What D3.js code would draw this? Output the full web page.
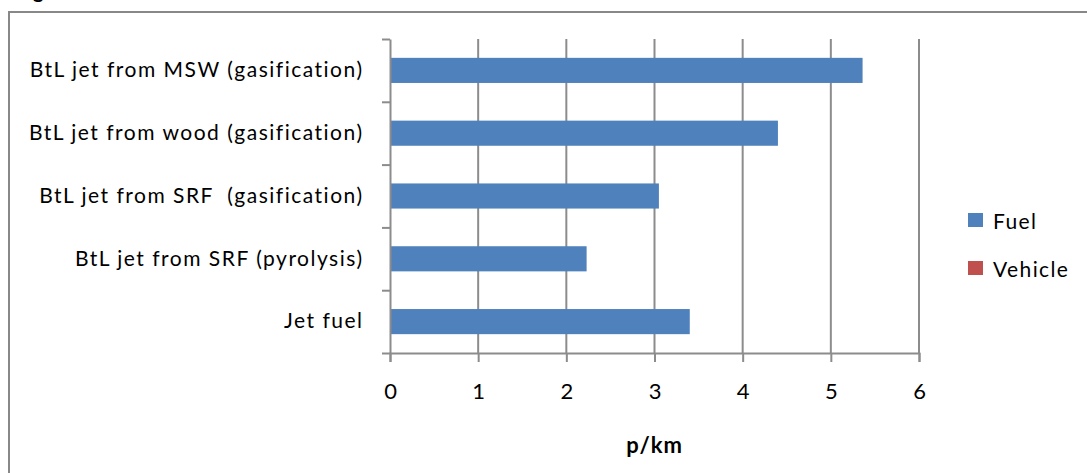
<!DOCTYPE html>
<html>
<head>
<meta charset="utf-8">
<script src="https://cdn.jsdelivr.net/npm/d3@7"></script>
<style>
  body { margin: 0; background: #fff; }
  svg { display: block; font-family: Lato, "Open Sans", sans-serif; }
  text { white-space: pre; font-variant-ligatures: none; }
</style>
</head>
<body>
<svg id="chart" width="1087" height="473"></svg>
<script>
// chart values
const categories = [
  'BtL jet from MSW (gasification)',
  'BtL jet from wood (gasification)',
  'BtL jet from SRF  (gasification)',
  'BtL jet from SRF (pyrolysis)',
  'Jet fuel'
]
const fuel = [5.36, 4.40, 3.05, 2.23, 3.40]
const vehicle = [0, 0, 0, 0, 0]
const seriesNames = ['Fuel', 'Vehicle']
const seriesColors = ['#4F81BD', '#C0504D']
const xTicks = [0, 1, 2, 3, 4, 5, 6]
const xTitle = 'p/km'

const svg = d3.select('#chart')
const gray = '#8c8c8c'

const plotLeft = 390, plotRight = 919, plotTop = 39, plotBottom = 353

// outer frame (cut by the picture edge on the right and bottom)
svg.append('path')
  .attr('d', 'M9,480 V12 H1100')
  .attr('fill', 'none')
  .attr('stroke', '#888')
  .attr('stroke-width', 2)

// leftover of a caption above the frame
svg.append('text')
  .attr('x', 33).attr('y', -2)
  .style('font-size', '20px').style('font-weight', 'bold')
  .text('g')

const xScale = d3.scaleLinear().domain([0, 6]).range([plotLeft, plotRight])
const yScale = d3.scaleBand().domain(categories).range([plotTop, plotBottom])
  .paddingInner(0.6).paddingOuter(0.3)

// vertical gridlines
svg.append('g')
  .selectAll('line')
  .data(xTicks.slice(1))
  .enter()
  .append('line')
  .attr('x1', d => xScale(d)).attr('x2', d => xScale(d))
  .attr('y1', plotTop).attr('y2', plotBottom)
  .attr('stroke', gray).attr('stroke-width', 2)

// stacked bars
const rows = categories.map((c, i) => ({ cat: c, Fuel: fuel[i], Vehicle: vehicle[i] }))
const stacked = d3.stack().keys(seriesNames)(rows)

svg.append('g')
  .selectAll('g')
  .data(stacked)
  .enter()
  .append('g')
  .attr('fill', (d, i) => seriesColors[i])
  .selectAll('rect')
  .data(d => d)
  .enter()
  .append('rect')
  .attr('x', d => xScale(d[0]))
  .attr('y', d => yScale(d.data.cat))
  .attr('width', d => xScale(d[1]) - xScale(d[0]))
  .attr('height', yScale.bandwidth())

// x axis
const xAxis = d3.axisBottom(xScale).tickValues(xTicks).tickFormat(d3.format('d'))
  .tickSize(9).tickPadding(21)
const gx = svg.append('g')
  .attr('transform', 'translate(0,' + plotBottom + ')')
  .call(xAxis)
gx.select('.domain').attr('stroke', gray).attr('stroke-width', 2)
gx.selectAll('.tick line').attr('stroke', gray).attr('stroke-width', 2)
gx.selectAll('.tick text')
  .attr('fill', '#000')
  .style('font-size', '22px')
  .style('font-family', 'Lato, sans-serif')

// y axis: line and category boundary ticks
const yBound = d3.scaleLinear().domain([0, categories.length]).range([plotTop, plotBottom])
const gy = svg.append('g')
  .attr('transform', 'translate(' + plotLeft + ',0)')
  .call(d3.axisLeft(yBound).ticks(categories.length).tickSize(8).tickSizeOuter(0).tickFormat(''))
gy.select('.domain').attr('stroke', gray).attr('stroke-width', 2)
gy.selectAll('.tick line').attr('stroke', gray).attr('stroke-width', 2)

// category labels
const gl = svg.append('g')
  .attr('transform', 'translate(' + plotLeft + ',0)')
  .call(d3.axisLeft(yScale).tickSize(0).tickPadding(26.5))
gl.select('.domain').remove()
gl.selectAll('.tick text')
  .attr('fill', '#000')
  .style('font-size', '21px')
  .style('letter-spacing', '1.5px')
  .style('font-family', 'Lato, sans-serif')

// axis title
svg.append('text')
  .attr('x', (plotLeft + plotRight) / 2).attr('y', 444)
  .attr('text-anchor', 'middle').attr('dominant-baseline', 'central')
  .style('font-size', '22px').style('font-weight', 'bold')
  .style('letter-spacing', '1px')
  .text(xTitle)

// legend
const legend = svg.append('g')
  .selectAll('g')
  .data(seriesNames)
  .enter()
  .append('g')
  .attr('transform', (d, i) => 'translate(968,' + (220 + i * 48) + ')')
legend.append('rect')
  .attr('x', 0).attr('y', -7)
  .attr('width', 15).attr('height', 14)
  .attr('fill', (d, i) => seriesColors[i])
legend.append('text')
  .attr('x', 25).attr('y', 0)
  .attr('dominant-baseline', 'central')
  .style('font-size', '21px')
  .style('letter-spacing', '1.4px')
  .text(d => d)
</script>
</body>
</html>
